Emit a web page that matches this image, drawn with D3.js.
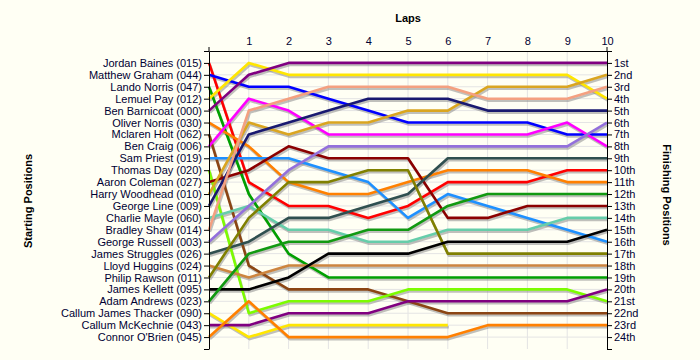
<!DOCTYPE html>
<html>
<head>
<meta charset="utf-8">
<script src="https://cdn.jsdelivr.net/npm/d3@7"></script>
<style>
  html, body { margin: 0; padding: 0; background: #fffff4; }
  svg { display: block; }
  text { font-family: "Liberation Sans", Arial, sans-serif; }
</style>
</head>
<body>
<svg id="chart" width="700" height="360"></svg>
<script>
// ---------- data ----------
const laps = [0, 1, 2, 3, 4, 5, 6, 7, 8, 9, 10];
const drivers = [
  "Jordan Baines (015)", "Matthew Graham (044)", "Lando Norris (047)", "Lemuel Pay (012)",
  "Ben Barnicoat (000)", "Oliver Norris (030)", "Mclaren Holt (062)", "Ben Craig (006)",
  "Sam Priest (019)", "Thomas Day (020)", "Aaron Coleman (027)", "Harry Woodhead (010)",
  "George Line (009)", "Charlie Mayle (060)", "Bradley Shaw (014)", "George Russell (003)",
  "James Struggles (026)", "Lloyd Huggins (024)", "Philip Rawson (011)", "James Kellett (095)",
  "Adam Andrews (023)", "Callum James Thacker (090)", "Callum McKechnie (043)", "Connor O'Brien (045)"
];
const driverColors = [
  "#ff0000", "#0000ff", "#00a000", "#ffe600",
  "#800080", "#ff8000", "#8b4513", "#ff00ff",
  "#1e90ff", "#7cfc00", "#8b0000", "#daa520",
  "#191970", "#66cdaa", "#f4a080", "#9370db",
  "#2f4f4f", "#cd853f", "#808000", "#000000",
  "#119911", "#ffe600", "#800080", "#ff8000"
];
// position of each driver after each lap (index = lap), null = retired
const lapPositions = [
  [1, 11, 13, 13, 14, 13, 11, 11, 11, 10, 10],
  [2, 3, 3, 4, 5, 6, 6, 6, 6, 7, 7],
  [3, 12, 17, 19, 19, 19, 19, 19, 19, 19, 19],
  [4, 1, 2, 2, 2, 2, 2, 2, 2, 2, 4],
  [5, 2, 1, 1, 1, 1, 1, 1, 1, 1, 1],
  [6, 8, 11, 12, 12, 11, 10, 10, 10, 11, 11],
  [7, 18, 20, 20, 20, 21, 22, 22, 22, 22, 22],
  [8, 4, 5, 7, 7, 7, 7, 7, 7, 6, 8],
  [9, 9, 9, 10, 11, 14, 12, 13, 14, 15, 16],
  [10, 22, 21, 21, 21, 20, 20, 20, 20, 20, 21],
  [11, 10, 8, 9, 9, 9, 14, 14, 13, 13, 13],
  [12, 6, 7, 6, 6, 5, 5, 3, 3, 3, 2],
  [13, 7, 6, 5, 4, 4, 4, 5, 5, 5, 5],
  [14, 13, 15, 15, 16, 16, 15, 15, 15, 14, 14],
  [15, 5, 4, 3, 3, 3, 3, 4, 4, 4, 3],
  [16, 13, 10, 8, 8, 8, 8, 8, 8, 8, 6],
  [17, 16, 14, 14, 13, 12, 9, 9, 9, 9, 9],
  [18, 19, 18, 18, 18, 18, 18, 18, 18, 18, 18],
  [19, 14, 11, 11, 10, 10, 17, 17, 17, 17, 17],
  [20, 20, 19, 17, 17, 17, 16, 16, 16, 16, 15],
  [21, 17, 16, 16, 15, 15, 13, 12, 12, 12, 12],
  [22, 24, 23, 23, 23, 23, 23, null, null, null, null],
  [23, 23, 22, 22, 22, 21, 21, 21, 21, 21, 20],
  [24, 21, 24, 24, 24, 24, 24, 23, 23, 23, 23]
];
const finishLabels = ["1st","2nd","3rd","4th","5th","6th","7th","8th","9th","10th","11th","12th",
  "13th","14th","15th","16th","17th","18th","19th","20th","21st","22nd","23rd","24th"];
const lapTickLabels = [1, 2, 3, 4, 5, 6, 7, 8, 9, 10];

// ---------- drawing ----------
const svg = d3.select("#chart");
const x = d3.scaleLinear().domain([0, 10]).range([209, 607]);
const y = d3.scaleLinear().domain([0, 25]).range([51, 349]);
const posTicks = d3.range(0, 26);
const textColor = "#000033";

// grid
const grid = svg.append("g");
grid.selectAll("line.v").data(laps.slice(1, 10)).join("line")
  .attr("x1", d => x(d)).attr("x2", d => x(d))
  .attr("y1", y(0)).attr("y2", y(25))
  .attr("stroke", "#e4e4e4").attr("stroke-width", 1);
grid.selectAll("line.h").data(d3.range(1, 25)).join("line")
  .attr("x1", x(0)).attr("x2", x(10))
  .attr("y1", d => y(d)).attr("y2", d => y(d))
  .attr("stroke", "#e4e4e4").attr("stroke-width", 1);

// lines
const line = d3.line()
  .defined(d => d != null)
  .x((d, i) => x(laps[i]))
  .y(d => y(d));

const series = lapPositions.map((p, i) => ({ name: drivers[i], color: driverColors[i], pos: p }));

const shadows = svg.append("g").attr("transform", "translate(1,2)");
shadows.selectAll("path").data(series).join("path")
  .attr("d", d => line(d.pos))
  .attr("fill", "none")
  .attr("stroke", "#8c8c8c")
  .attr("stroke-opacity", 0.55)
  .attr("stroke-width", 2.6)
  .attr("stroke-linejoin", "round");

svg.append("g").selectAll("path").data(series).join("path")
  .attr("d", d => line(d.pos))
  .attr("fill", "none")
  .attr("stroke", d => d.color)
  .attr("stroke-width", 2.6)
  .attr("stroke-linejoin", "round");

// axes
function styleAxis(g) {
  g.selectAll("text").attr("fill", textColor).style("font-size", "11px")
    .style("font-family", '"Liberation Sans", Arial, sans-serif');
  g.selectAll("line").attr("stroke", "#000");
  g.select(".domain").attr("stroke", "#000");
}

const leftAxis = d3.axisLeft(y)
  .tickValues(posTicks)
  .tickFormat(d => (d >= 1 && d <= 24) ? drivers[d - 1] : "")
  .tickSize(5).tickSizeOuter(0).tickPadding(2);
svg.append("g").attr("transform", `translate(${x(0)},0)`).call(leftAxis).call(styleAxis);

const rightAxis = d3.axisRight(y)
  .tickValues(posTicks)
  .tickFormat(d => (d >= 1 && d <= 24) ? finishLabels[d - 1] : "")
  .tickSize(5).tickSizeOuter(0).tickPadding(2);
svg.append("g").attr("transform", `translate(${x(10)},0)`).call(rightAxis).call(styleAxis);

const topAxis = d3.axisTop(x)
  .tickValues(lapTickLabels)
  .tickSize(0).tickSizeOuter(0).tickPadding(6);
svg.append("g").attr("transform", `translate(0,${y(0)})`).call(topAxis).call(styleAxis);

// small overhang of vertical axes above the top axis
svg.append("line").attr("x1", x(0)).attr("x2", x(0)).attr("y1", y(0) - 4).attr("y2", y(0)).attr("stroke", "#000");
svg.append("line").attr("x1", x(10)).attr("x2", x(10)).attr("y1", y(0) - 4).attr("y2", y(0)).attr("stroke", "#000");

// titles
svg.append("text").attr("x", 408).attr("y", 22).attr("text-anchor", "middle")
  .attr("fill", "#000").style("font-size", "11px").style("font-weight", "bold").text("Laps");
svg.append("text").attr("transform", "translate(32,201) rotate(-90)").attr("text-anchor", "middle")
  .attr("fill", "#000").style("font-size", "11px").style("font-weight", "bold").text("Starting Positions");
svg.append("text").attr("transform", "translate(663,195) rotate(90)").attr("text-anchor", "middle")
  .attr("fill", "#000").style("font-size", "11px").style("font-weight", "bold").text("Finishing Positions");
</script>
</body>
</html>
